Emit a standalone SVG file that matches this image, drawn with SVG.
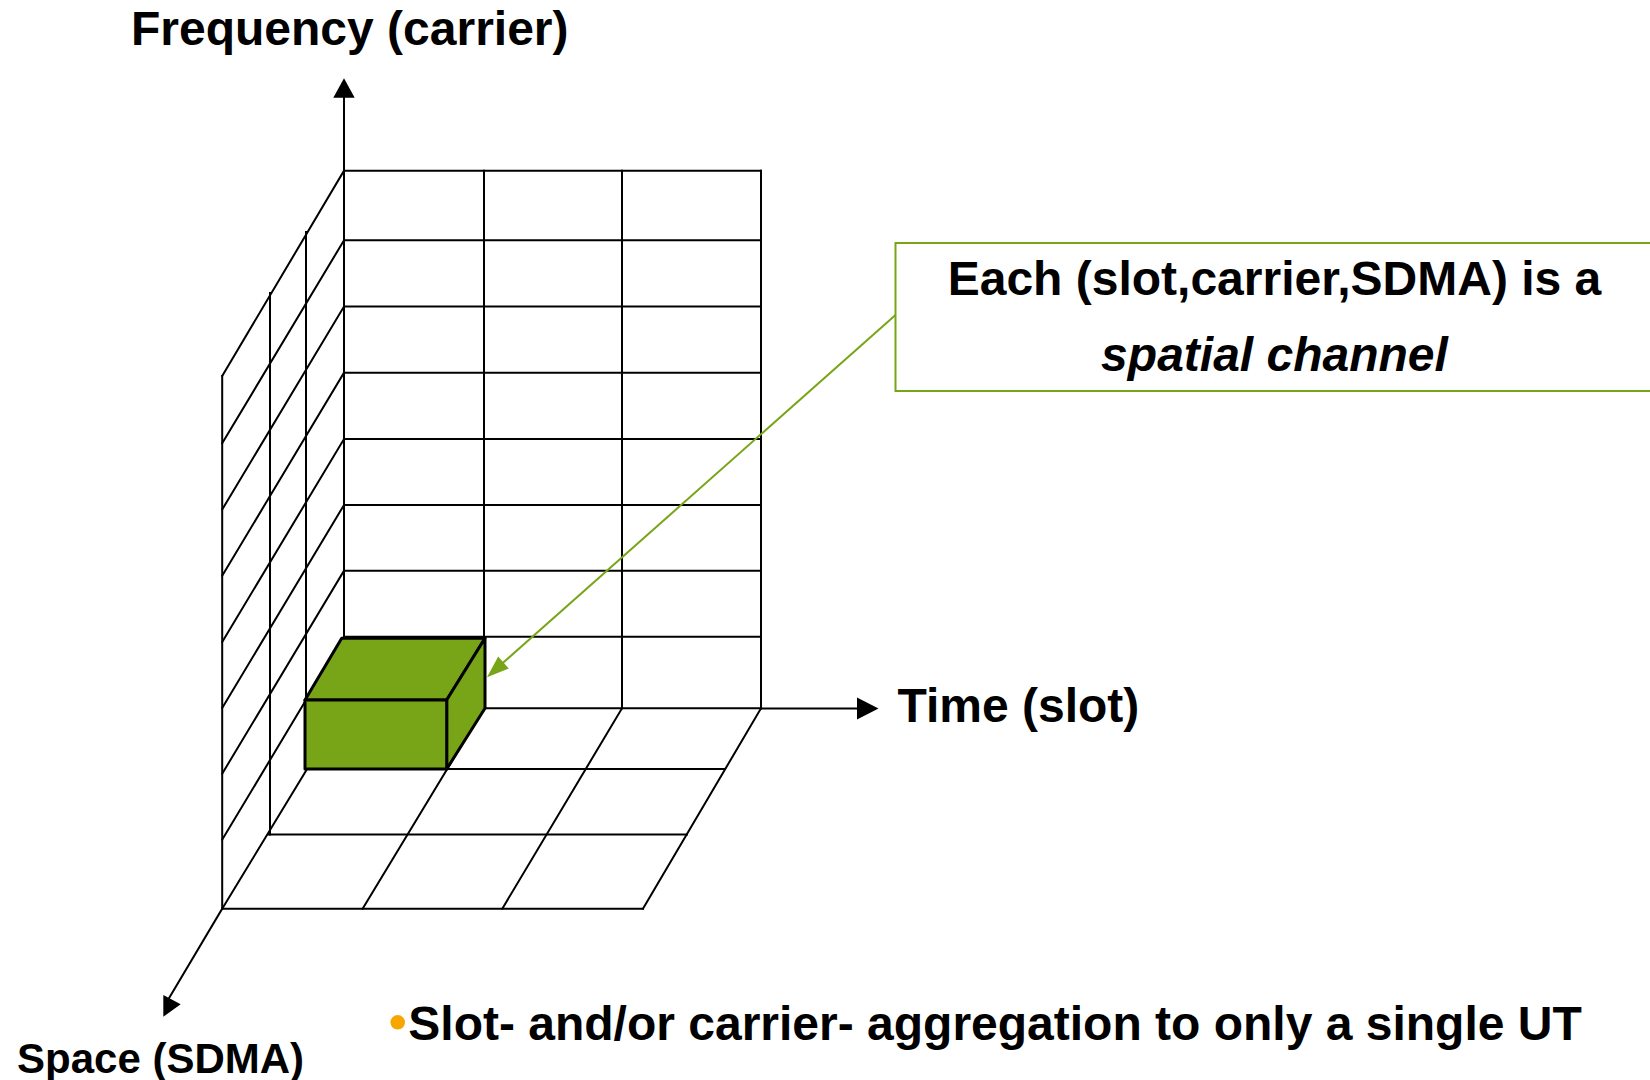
<svg xmlns="http://www.w3.org/2000/svg" width="1650" height="1080" viewBox="0 0 1650 1080">
<style>
.g{stroke:#000;stroke-width:2;fill:none;stroke-linecap:square}
.ah{fill:#000;stroke:none}
.box{fill:#78A517;stroke:#000;stroke-width:3;stroke-linejoin:round}
.t{font-family:"Liberation Sans",Arial,sans-serif;font-weight:bold;fill:#000}
.call{fill:#fff;stroke:#78A517;stroke-width:2}
.cl{stroke:#78A517;stroke-width:2;fill:none}
.cah{fill:#78A517}
</style>
<rect width="1650" height="1080" fill="#fff"/>
<g id="grid">
<!-- back wall (time-frequency) -->
<path class="g" d="M344 170.7H761M344 240.3H761M344 306.5H761M344 372.7H761M344 439H761M344 505H761M344 570.7H761M344 636.7H761M344 708.3H761"/>
<path class="g" d="M344 170.7V708.3M484 170.7V708.3M622 170.7V708.3M761 170.7V708.3"/>
<!-- left wall (space-frequency) -->
<path class="g" d="M344 170.7L222.2 376M344 240.3L222.2 443.3M344 306.5L222.2 509.5M344 372.7L222.2 575.7M344 439L222.2 642M344 505L222.2 708M344 570.7L222.2 773.7M344 636.7L222.2 839.7"/>
<path class="g" d="M306 232V769M270 293V834.5M222.2 376V908.7"/>
<!-- floor (space-time) -->
<path class="g" d="M306 769H725M268 834.5H687M222.2 908.7H643"/>
<path class="g" d="M344 708.3L222.2 908.7M484 708.3L362.6 908.7M622 708.3L502.3 908.7M761 708.3L643 908.7"/>
</g>
<g id="axes">
<path class="g" d="M344 170.7V97"/>
<polygon class="ah" points="333.3,97.7 344,78.3 354.7,97.7"/>
<path class="g" d="M761 708.5H858"/>
<polygon class="ah" points="857,697.5 878.5,708.5 857,719.5"/>
<path class="g" d="M222.2 908.7L168 1000"/>
<polygon class="ah" points="163.3,995 180.7,1004.3 163.3,1016.7"/>
</g>
<g id="channel-box">
<polygon class="box" points="341.7,638.3 485,638.3 446.7,700 305,700"/>
<polygon class="box" points="485,638.3 485,708.3 446.7,769 446.7,700"/>
<rect class="box" x="305" y="700" width="141.7" height="69"/>
</g>
<g id="connectors">
<line class="cl" x1="895.5" y1="315" x2="503" y2="662.8"/>
<polygon class="cah" points="487,677.3 508.8,668.4 498.2,656.4"/>
</g>
<g id="callout">
<rect class="call" x="895.5" y="243" width="760" height="148"/>
<text class="t" x="1274.5" y="294.5" font-size="48" text-anchor="middle">Each (slot,carrier,SDMA) is a</text>
<text class="t" x="1274.5" y="371" font-size="48" text-anchor="middle" font-style="italic">spatial channel</text>
</g>
<g id="labels">
<text class="t" x="131" y="45" font-size="48">Frequency (carrier)</text>
<text class="t" x="897.5" y="722" font-size="48">Time (slot)</text>
<text class="t" x="17" y="1072.5" font-size="42">Space (SDMA)</text>
</g>
<g id="bullet">
<circle cx="397.7" cy="1022.3" r="7.3" fill="#F7A600"/>
<text class="t" x="408.3" y="1040" font-size="48">Slot- and/or carrier- aggregation to only a single UT</text>
</g>
</svg>
